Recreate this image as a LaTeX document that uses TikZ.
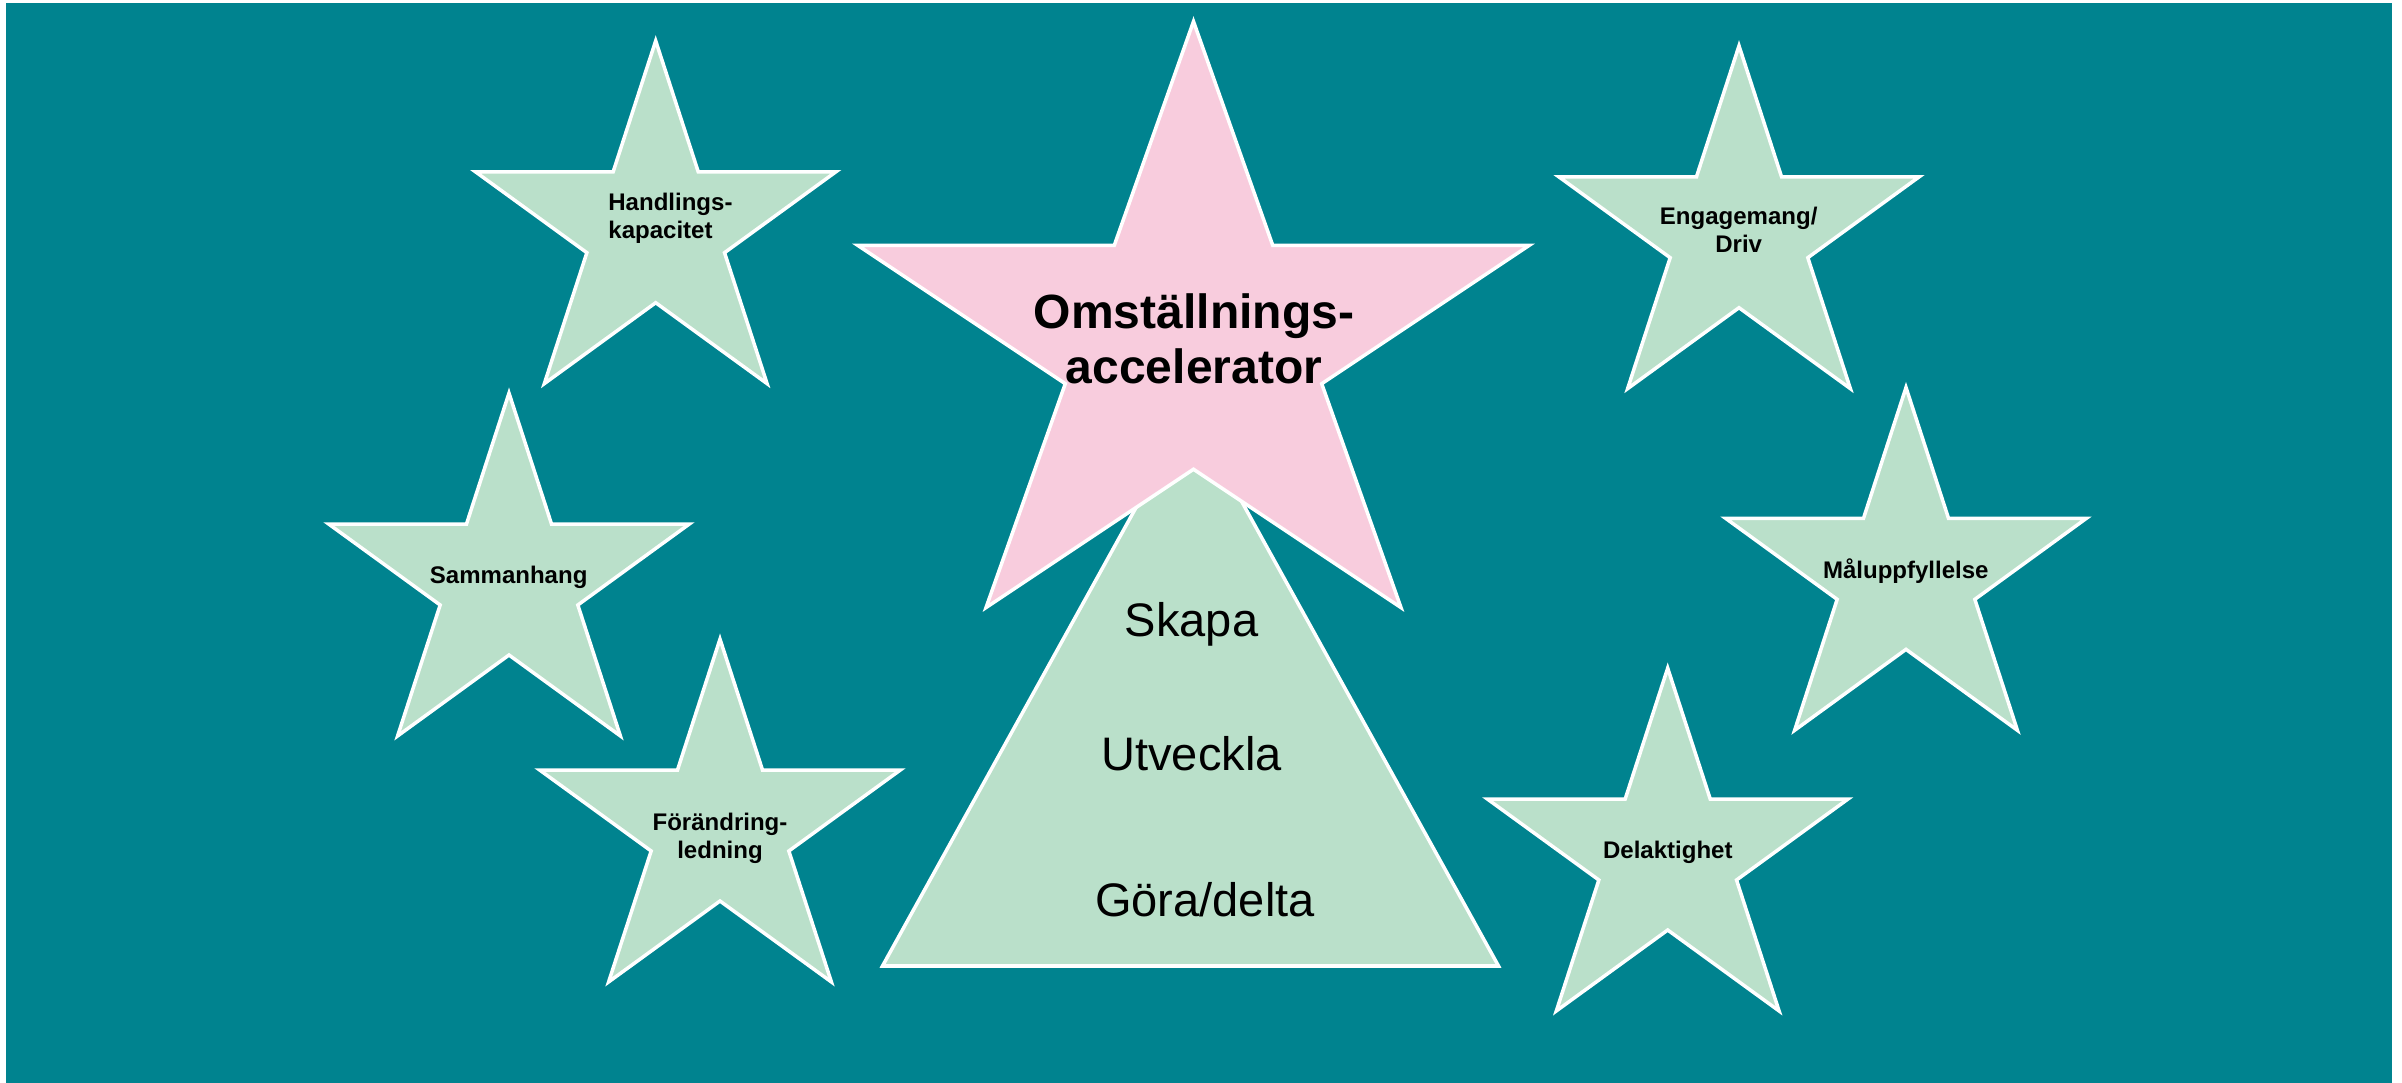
\documentclass[tikz,border=0pt]{standalone}
\usepackage{fontspec}
\setmainfont{Liberation Sans}
\definecolor{bgteal}{RGB}{0,131,143}
\definecolor{stargreen}{RGB}{186,224,202}
\definecolor{starpink}{RGB}{248,204,221}
\newcommand{\pentastar}[5]{%
  \draw[starline, fill=#5, shift={(#1,#2)}, xscale=#3, yscale=#4]
    (0,-1) -- (0.22451,-0.30902) -- (0.95106,-0.30902) -- (0.36327,0.11803)
    -- (0.58779,0.80902) -- (0,0.38197) -- (-0.58779,0.80902) -- (-0.36327,0.11803)
    -- (-0.95106,-0.30902) -- (-0.22451,-0.30902) -- cycle;}
\begin{document}
\begin{tikzpicture}[x=0.01cm, y=-0.01cm,
  starline/.style={draw=white, line width=1pt, line join=miter},
  smalltxt/.style={font=\fontsize{6.83}{7.9}\selectfont\bfseries, inner sep=0pt, text=black},
  bigtxt/.style={font=\fontsize{13.66}{15.5}\selectfont\bfseries, inner sep=0pt, text=black},
  tritxt/.style={font=\fontsize{13.37}{15.4}\selectfont, inner sep=0pt, text=black, anchor=base}]
\useasboundingbox (0,0) rectangle (2402,1083);
\fill[bgteal] (6,3) rectangle (2392,1083);
% small stars
\pentastar{655.7}{230.35}{189.5}{189.5}{stargreen}
\pentastar{509}{582.65}{189.5}{189.5}{stargreen}
\pentastar{720}{828.65}{189.5}{189.5}{stargreen}
\pentastar{1739}{235.35}{189.5}{189.5}{stargreen}
\pentastar{1906}{577}{189.5}{189.5}{stargreen}
\pentastar{1667.7}{857.65}{189.5}{189.5}{stargreen}
% triangle
\coordinate (apex) at (1190.5,409);
\coordinate (bl) at (882.5,966);
\coordinate (br) at (1498.5,966);
\draw[starline, fill=stargreen] (apex) -- (br) -- (bl) -- cycle;
\node[tritxt] (skapa) at (1191.5,637) {Skapa};
\node[tritxt] (utveckla) at (1191.5,771) {Utveckla};
\node[tritxt] (gora) at (1205,917) {Göra/delta};
% big star
\pentastar{1193.5}{345.5}{353}{324}{starpink}
\node[bigtxt, align=center, anchor=base] (oms) at (1194,383.5) {Omställnings-\\accelerator};
% labels of small stars
\node[smalltxt, align=left, anchor=base west] (hk) at (607.7,238.3) {Handlings-\\kapacitet};
\node[smalltxt, anchor=base] (samm) at (508.7,583.3) {Sammanhang};
\node[smalltxt, align=center, anchor=base] (forl) at (720,858.3) {Förändring-\\ledning};
\node[smalltxt, align=center, anchor=base] (eng) at (1738.7,252.7) {Engagemang/\\Driv};
\node[smalltxt, anchor=base] (mal) at (1905.8,578.3) {Måluppfyllelse};
\node[smalltxt, anchor=base] (del) at (1667.8,859) {Delaktighet};
\end{tikzpicture}
\end{document}
